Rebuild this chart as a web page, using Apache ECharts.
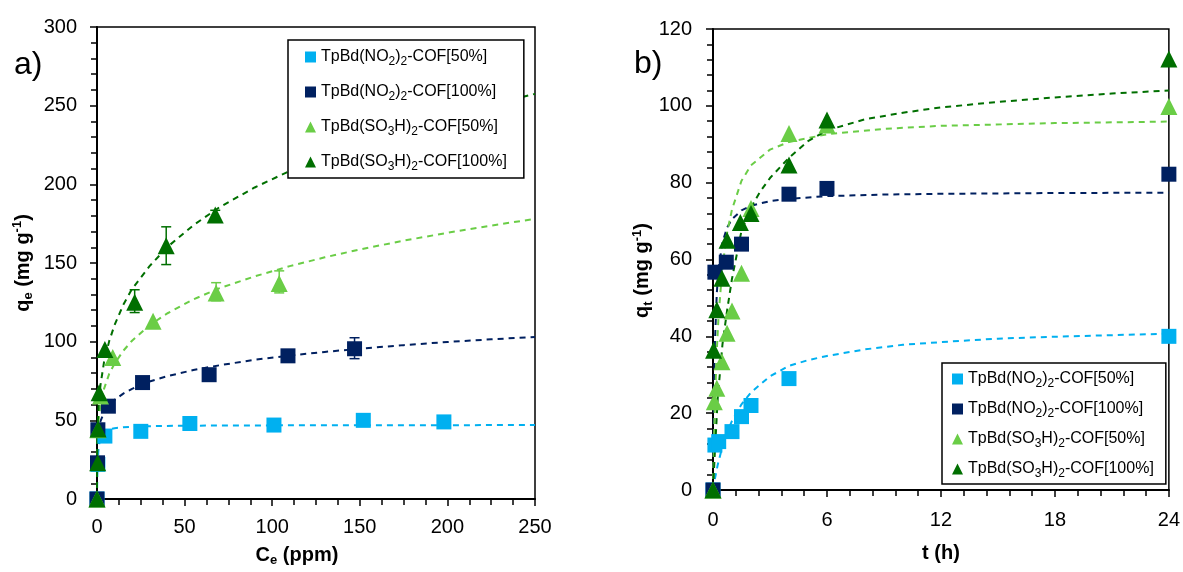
<!DOCTYPE html>
<html>
<head>
<meta charset="utf-8">
<script src="https://cdn.jsdelivr.net/npm/echarts@6/dist/echarts.min.js"></script>
<style>
html,body{margin:0;padding:0;background:#fff;}
#chart{width:1183px;height:572px;}
</style>
</head>
<body>
<div id="chart"></div>
<script>
// ---------- names ----------
const seriesNames = ['TpBd(NO2)2-COF[50%]', 'TpBd(NO2)2-COF[100%]', 'TpBd(SO3H)2-COF[50%]', 'TpBd(SO3H)2-COF[100%]'];
const legendRich = ['TpBd(NO{s|2}){s|2}-COF[50%]', 'TpBd(NO{s|2}){s|2}-COF[100%]', 'TpBd(SO{s|3}H){s|2}-COF[50%]', 'TpBd(SO{s|3}H){s|2}-COF[100%]'];
const colors = ['#00B0F0', '#002060', '#6ACD46', '#006F00'];
const symbols = ['rect', 'rect', 'triangle', 'triangle'];

// ---------- panel a: isotherm (Ce ppm, qe mg/g) ----------
const isoNO2_50 = [[0,0],[0.5,22],[4.5,40],[25,43],[53,48],[101,47],[152,50],[198,49]];
const isoNO2_100 = [[0,0],[0.3,23],[0.5,44],[6.5,59],[26,74],[64,79],[109,91],[147,95.5]];
const isoSO3H_50 = [[0,0],[0.5,44],[2,65.5],[9,90],[32,113],[68,131],[104,137]];
const isoSO3H_100 = [[0,0],[0.4,23],[0.6,44.5],[1.2,67.5],[4.5,95],[21.5,125],[39.5,161],[67.5,180.5]];

const errNO2_100 = [[147,89.2,102.5]];
const errSO3H_50 = [[68,126,137.5],[104,131,145]];
const errSO3H_100 = [[21.5,118.5,133],[39.5,149,173],[67.5,177.5,183.5]];

const isoFitNO2_50 = [[0,0],[0.05,5],[0.1,9],[0.2,15],[0.35,21],[0.5,25.5],[0.75,30],[1,33],[1.5,36.5],[2,39],[3,41.2],[4.5,43],[7,44.3],[10,45],[15,45.6],[25,46.2],[50,46.6],[100,46.8],[250,47]];
const isoFitNO2_100 = [[0,0],[0.01,22],[0.05,28],[0.1,31.4],[0.2,35],[0.5,40],[1,44.5],[2,49.5],[4,55],[7,59.5],[10,63],[15,67],[20,70],[30,74.7],[40,78],[55,82],[70,85],[90,88.5],[110,91.2],[130,93.5],[150,95.5],[175,97.8],[200,99.8],[225,101.5],[250,103]];
const isoFitSO3H_50 = [[0,0],[0.01,18],[0.05,26],[0.1,30.4],[0.2,36],[0.5,43.7],[1,51],[2,59.8],[4,70],[7,79.7],[10,86],[15,94.2],[20,100.6],[30,110.4],[40,117.9],[55,126.9],[70,134],[90,141.5],[110,148],[130,153.6],[150,158.6],[175,164.2],[200,169.2],[225,173.8],[250,178]];
const isoFitSO3H_100 = [[0,0],[0.01,18],[0.05,27.5],[0.1,33],[0.2,39.6],[0.5,50.3],[1,60.4],[2,72.5],[4,87],[7,100.5],[10,110.5],[15,123.5],[20,133.5],[30,148],[40,160],[55,174],[70,185.5],[90,198],[110,208.5],[130,217.5],[150,225.5],[175,234.5],[200,243],[225,250.5],[250,257.5]];

// ---------- panel b: kinetics (t h, qt mg/g) ----------
const kinNO2_50 = [[0,0],[0.1,11.7],[0.3,12.6],[1,15.2],[1.5,19.1],[2,22],[4,29],[24,40]];
const kinNO2_100 = [[0,0],[0.1,56.7],[0.7,59.3],[1.5,64],[4,77],[6,78.5],[24,82.2]];
const kinSO3H_50 = [[0,0],[0.07,23],[0.2,26.5],[0.47,33.4],[0.74,40.8],[1,46.6],[1.5,56.4],[2,73.3],[4,92.8],[6,95],[24,99.8]];
const kinSO3H_100 = [[0,0],[0.03,36.4],[0.2,46.9],[0.47,55.1],[0.74,65],[1.44,69.6],[2,72],[4,84.6],[6,96.3],[24,112.2]];

const kinFitNO2_50 = [[0,0],[0.1,2.9],[0.25,6.6],[0.5,11.4],[0.75,15.1],[1,18],[1.5,22.3],[2,25.4],[3,29.6],[4,32.3],[5,33.8],[6,34.9],[8,36.6],[10,37.8],[12,38.5],[15,39.4],[18,39.9],[21,40.3],[24,40.7]];
const kinFitNO2_100 = [[0,0],[0.05,25.3],[0.1,38.2],[0.2,51.3],[0.3,57.9],[0.5,64.5],[0.75,68.4],[1,70.5],[1.5,72.8],[2,74],[3,75.2],[4,75.8],[6,76.5],[9,76.9],[12,77.1],[18,77.3],[24,77.4]];
const kinFitSO3H_50 = [[0,0],[0.05,12.7],[0.1,22.4],[0.2,36.4],[0.3,45.9],[0.5,58.2],[0.75,67.2],[1,73],[1.5,80.5],[2,84.5],[3,88.6],[4,90.6],[6,92.6],[9,94],[12,94.8],[18,95.5],[24,95.9]];
const kinFitSO3H_100 = [[0,0],[0.1,10],[0.25,24],[0.5,38],[0.75,47],[1,55],[1.5,67.5],[2,73.5],[2.5,77.8],[3,81.2],[4,86.5],[5,90.8],[6,93.6],[8,96.5],[10,98.2],[12,99.6],[15,101],[18,102.2],[21,103.2],[24,104]];

// ---------- axis ticks ----------
const isoX = {min:0, max:250, interval:50};
const isoY = {min:0, max:300, interval:50};
const kinX = {min:0, max:24, interval:6};
const kinY = {min:0, max:120, interval:20};

// ---------- build ----------
const FONT = "'Liberation Sans',Arial,sans-serif";

function axisBase(gridIndex, rng, minorSplit, labelMargin) {
  return {
    gridIndex, type:'value', min:rng.min, max:rng.max, interval:rng.interval,
    axisLine:{show:true, onZero:false, lineStyle:{color:'#000', width:2}},
    axisTick:{show:true, inside:false, length:7, lineStyle:{color:'#000', width:1.5}},
    minorTick:{show:true, splitNumber:minorSplit, length:6, lineStyle:{color:'#000', width:1.5}},
    splitLine:{show:false}, minorSplitLine:{show:false},
    axisLabel:{color:'#000', fontFamily:FONT, fontSize:20, margin:labelMargin}
  };
}
const nameRich = {
  s:{fontFamily:FONT, fontWeight:'bold', fontSize:13, verticalAlign:'bottom', lineHeight:12, color:'#000'},
  p:{fontFamily:FONT, fontWeight:'bold', fontSize:13, verticalAlign:'top', lineHeight:12, color:'#000'}
};
const nameStyle = {fontFamily:FONT, fontWeight:'bold', fontSize:20, color:'#000', lineHeight:24, rich:nameRich};

const xA0 = Object.assign(axisBase(0, isoX, 4, 18), {name:'C{s|e} (ppm)', nameLocation:'middle', nameGap:44, nameTextStyle:Object.assign({}, nameStyle, {padding:[0,38,0,0]})});
const yA0 = Object.assign(axisBase(0, isoY, 5, 20), {name:'q{s|e} (mg g{p|-1})', nameLocation:'middle', nameGap:62, nameRotate:90, nameTextStyle:nameStyle});
const xA1 = Object.assign(axisBase(1, kinX, 5, 20), {name:'t (h)', nameLocation:'middle', nameGap:51, nameTextStyle:nameStyle});
const yA1 = Object.assign(axisBase(1, kinY, 5, 21), {name:'q{s|t} (mg g{p|-1})', nameLocation:'middle', nameGap:40, nameRotate:90, nameTextStyle:Object.assign({}, nameStyle, {padding:[0,22,0,0]})});

function scatter(idx, data, xi) {
  return {type:'scatter', name:seriesNames[idx], xAxisIndex:xi, yAxisIndex:xi, data,
    symbol:symbols[idx], symbolSize: symbols[idx]==='rect' ? 15 : 17,
    itemStyle:{color:colors[idx], opacity:1}, z:4+idx};
}
function fit(idx, data, xi) {
  return {type:'line', name:'fit'+xi+'_'+idx, xAxisIndex:xi, yAxisIndex:xi, data, showSymbol:false,
    smooth:false, clip:true,
    lineStyle:{color:colors[idx], width:2, type:[6,5]}, z:2, silent:true};
}
function errBars(idx, data) {
  return {type:'custom', name:'err'+idx, xAxisIndex:0, yAxisIndex:0, data, z:3,
    renderItem:function(params, api){
      const x = api.value(0);
      const p1 = api.coord([x, api.value(1)]);
      const p2 = api.coord([x, api.value(2)]);
      const w = 5;
      const st = {stroke:colors[idx], lineWidth:1.5};
      return {type:'group', children:[
        {type:'line', shape:{x1:p1[0], y1:p1[1], x2:p2[0], y2:p2[1]}, style:st},
        {type:'line', shape:{x1:p1[0]-w, y1:p1[1], x2:p1[0]+w, y2:p1[1]}, style:st},
        {type:'line', shape:{x1:p2[0]-w, y1:p2[1], x2:p2[0]+w, y2:p2[1]}, style:st}
      ]};
    }};
}

const legendText = {
  fontFamily:FONT, fontSize:16, color:'#000', lineHeight:22,
  rich:{s:{fontFamily:FONT, fontSize:12, verticalAlign:'bottom', lineHeight:13, color:'#000'}}
};
function legendFmt(name){ return legendRich[seriesNames.indexOf(name)]; }

const option = {
  animation:false,
  backgroundColor:'#fff',
  grid:[
    {left:97, top:27, width:438, height:473, show:true, borderColor:'#000', borderWidth:1.5, backgroundColor:'transparent'},
    {left:713, top:29, width:457, height:461, show:true, borderColor:'#000', borderWidth:1.5, backgroundColor:'transparent'}
  ],
  xAxis:[xA0, xA1],
  yAxis:[yA0, yA1],
  legend:[
    {data:seriesNames, orient:'vertical', left:288, top:40, itemGap:13, itemWidth:11, itemHeight:11,
     padding:[6,17,5,17], backgroundColor:'#fff', borderColor:'#000', borderWidth:1.5,
     textStyle:legendText, formatter:legendFmt, selectedMode:false},
    {data:seriesNames, orient:'vertical', left:942, top:363, itemGap:8, itemWidth:11, itemHeight:11,
     padding:[5,12,4,10], backgroundColor:'#fff', borderColor:'#000', borderWidth:1.5,
     textStyle:legendText, formatter:legendFmt, selectedMode:false}
  ],
  graphic:[
    {type:'text', left:14, top:49, style:{text:'a)', font:"32px 'Liberation Sans',Arial,sans-serif", fill:'#000'}},
    {type:'text', left:634, top:48, style:{text:'b)', font:"32px 'Liberation Sans',Arial,sans-serif", fill:'#000'}}
  ],
  series:[
    fit(0, isoFitNO2_50, 0), fit(1, isoFitNO2_100, 0), fit(2, isoFitSO3H_50, 0), fit(3, isoFitSO3H_100, 0),
    errBars(1, errNO2_100), errBars(2, errSO3H_50), errBars(3, errSO3H_100),
    scatter(0, isoNO2_50, 0), scatter(1, isoNO2_100, 0), scatter(2, isoSO3H_50, 0), scatter(3, isoSO3H_100, 0),
    fit(0, kinFitNO2_50, 1), fit(1, kinFitNO2_100, 1), fit(2, kinFitSO3H_50, 1), fit(3, kinFitSO3H_100, 1),
    scatter(0, kinNO2_50, 1), scatter(1, kinNO2_100, 1), scatter(2, kinSO3H_50, 1), scatter(3, kinSO3H_100, 1)
  ]
};
const chart = echarts.init(document.getElementById('chart'), null, {renderer:'canvas'});
chart.setOption(option);
</script>
</body>
</html>
